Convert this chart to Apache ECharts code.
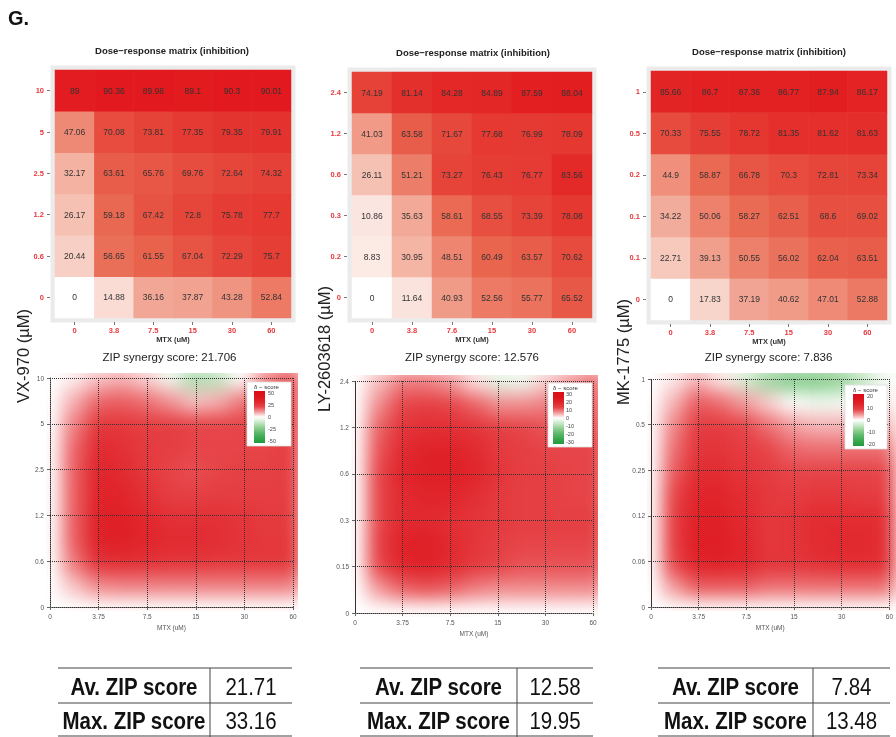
<!DOCTYPE html>
<html>
<head>
<meta charset="utf-8">
<script src="https://cdn.jsdelivr.net/npm/echarts@6/dist/echarts.min.js"></script>
<style>
  body { margin: 0; background: #fff; }
  #wrap { position: relative; width: 896px; height: 737px; overflow: hidden; }
  .clip { position: absolute; overflow: hidden; }
  .blur { position: absolute; width: 896px; height: 737px; filter: blur(9px); }
  #main { position: absolute; left: 0; top: 0; width: 896px; height: 737px; }
</style>
</head>
<body>
<div id="wrap">
  <div class="clip" id="clip0"><div class="blur" id="syn0"></div></div>
  <div class="clip" id="clip1"><div class="blur" id="syn1"></div></div>
  <div class="clip" id="clip2"><div class="blur" id="syn2"></div></div>
  <div id="main"></div>
</div>
<script>
// ---- data ----
var drugNames = ['VX-970 (\u00b5M)', 'LY-2603618 (\u00b5M)', 'MK-1775 (\u00b5M)'];
var matX = [
  ['0', '3.8', '7.5', '15', '30', '60'],
  ['0', '3.8', '7.6', '15', '30', '60'],
  ['0', '3.8', '7.5', '15', '30', '60']
];
var matY = [
  ['0', '0.6', '1.2', '2.5', '5', '10'],
  ['0', '0.2', '0.3', '0.6', '1.2', '2.4'],
  ['0', '0.1', '0.1', '0.2', '0.5', '1']
];
// inhibition, rows from lowest dose (bottom) to highest (top)
var inhibVX = [
  [0, 14.88, 36.16, 37.87, 43.28, 52.84],
  [20.44, 56.65, 61.55, 67.04, 72.29, 75.7],
  [26.17, 59.18, 67.42, 72.8, 75.78, 77.7],
  [32.17, 63.61, 65.76, 69.76, 72.64, 74.32],
  [47.06, 70.08, 73.81, 77.35, 79.35, 79.91],
  [89, 90.36, 89.98, 89.1, 90.3, 90.01]
];
var inhibLY = [
  [0, 11.64, 40.93, 52.56, 55.77, 65.52],
  [8.83, 30.95, 48.51, 60.49, 63.57, 70.62],
  [10.86, 35.63, 58.61, 68.55, 73.39, 78.08],
  [26.11, 51.21, 73.27, 76.43, 76.77, 83.56],
  [41.03, 63.58, 71.67, 77.68, 76.99, 78.09],
  [74.19, 81.14, 84.28, 84.89, 87.59, 88.04]
];
var inhibMK = [
  [0, 17.83, 37.19, 40.62, 47.01, 52.88],
  [22.71, 39.13, 50.55, 56.02, 62.04, 63.51],
  [34.22, 50.06, 58.27, 62.51, 68.6, 69.02],
  [44.9, 58.87, 66.78, 70.3, 72.81, 73.34],
  [70.33, 75.55, 78.72, 81.35, 81.62, 81.63],
  [85.66, 86.7, 87.36, 86.77, 87.94, 86.17]
];

var synTitles = ['ZIP synergy score: 21.706', 'ZIP synergy score: 12.576', 'ZIP synergy score: 7.836'];
var synX = ['0', '3.75', '7.5', '15', '30', '60'];
var synY = [
  ['0', '0.6', '1.2', '2.5', '5', '10'],
  ['0', '0.15', '0.3', '0.6', '1.2', '2.4'],
  ['0', '0.06', '0.12', '0.25', '0.5', '1']
];
// delta scores on a half-step grid (11 x 11), bottom row first
var deltaVX = [
  [0, 0, 0, 0, 0, 0, 0, 0, 0, 0, 0],
  [0, 6, 12, 13, 13, 13, 13, 13, 13, 13, 13],
  [0, 14, 26, 27, 26, 25, 25, 24, 24, 24, 24],
  [0, 17, 32, 33, 30, 28, 28, 27, 25, 24, 24],
  [0, 17, 32, 33, 29, 26, 26, 26, 25, 23, 23],
  [0, 17, 31, 30, 26, 22, 21, 22, 22, 22, 22],
  [0, 17, 30, 28, 24, 20, 19, 20, 21, 21, 22],
  [0, 16, 28, 26, 23, 22, 20, 20, 20, 20, 22],
  [0, 13, 24, 24, 22, 22, 20, 20, 20, 20, 22],
  [0, 8, 16, 17, 15, 11, 6, 8, 14, 18, 20],
  [0, 2, 6, 8, 5, -3, -15, -12, 0, 12, 18]
];
var deltaLY = [
  [0, 0, 0, 0, 0, 0, 0, 0, 0, 0, 0],
  [0, 6, 10, 11, 10, 8, 7, 7, 7, 7, 7],
  [0, 12, 18, 19, 17, 14, 12, 11, 11, 11, 11],
  [0, 13, 19, 20, 17, 15, 13, 12, 12, 12, 12],
  [0, 12, 17, 17, 16, 15, 14, 13, 13, 13, 13],
  [0, 12, 17, 18, 18, 16, 14, 13, 13, 12, 12],
  [0, 12, 18, 20, 20, 18, 15, 13, 13, 12, 12],
  [0, 11, 17, 19, 19, 17, 14, 13, 12, 12, 12],
  [0, 10, 15, 16, 16, 15, 13, 12, 11, 11, 11],
  [0, 7, 12, 13, 12, 10, 7, 7, 8, 9, 10],
  [0, 4, 8, 8, 6, 2, -3, -2, 3, 6, 9]
];
var deltaMK = [
  [0, 0, 0, 0, 0, 0, 0, 0, 0, 0, 0],
  [0, 4, 7, 7, 7, 6, 6, 6, 6, 6, 6],
  [0, 8, 12.5, 13, 12, 10, 10, 10.5, 11, 11, 11],
  [0, 9, 13.5, 13.5, 12, 9.5, 10, 11, 11.5, 11.5, 11],
  [0, 9, 13, 13, 11.5, 9.5, 10, 11, 11, 11, 11],
  [0, 8, 12, 12, 11, 9.5, 9, 9.5, 9.5, 9, 9],
  [0, 7, 11, 11, 10, 9, 8, 8, 8, 8, 8],
  [0, 6, 10, 10, 9, 8, 6.5, 6, 6, 6, 6],
  [0, 5, 9, 9, 8, 6, 4, 3, 3, 3, 3],
  [0, 3, 7, 6, 4, 2, 0, -1, -1, 0, 1],
  [0, 1, 3, 1, -3, -7, -9, -9, -8, -5, -1]
];
var synRange = [50, 30, 20];
var legendLabels = [
  ['50', '25', '0', '-25', '-50'],
  ['30', '20', '10', '0', '-10', '-20', '-30'],
  ['20', '10', '0', '-10', '-20']
];

var tableRows = ['Av. ZIP score', 'Max. ZIP score'];
var avZip = [21.71, 12.58, 7.84];
var maxZip = [33.16, 19.95, 13.48];

// ---- layout ----
var inhib = [inhibVX, inhibLY, inhibMK];
var delta = [deltaVX, deltaLY, deltaMK];
var matGrid = [
  {left: 55, top: 70, width: 236, height: 248},
  {left: 352, top: 72, width: 240, height: 246},
  {left: 651, top: 71, width: 236, height: 249}
];
var matTitleX = [172, 473, 769];
var synGrid = [
  {left: 50, top: 378, width: 243, height: 229},
  {left: 355, top: 381, width: 238, height: 232},
  {left: 651, top: 379, width: 239, height: 228}
];
var clips = [[46, 373, 252, 238], [351, 375, 247, 242], [647, 373, 249, 238]];
var legendBox = [
  {x: 247, y: 382, w: 44, bar: 254, lab: 268},
  {x: 548, y: 383, w: 44, bar: 553, lab: 566},
  {x: 845, y: 385, w: 42, bar: 853, lab: 867}
];
var nameX = [23, 324, 623], nameY = [356, 349, 352];
var tables = [[58, 292, 210], [360, 593, 517], [658, 890, 813]];

var FONT = "'Liberation Sans', Arial, sans-serif";
var synColors = ['#1e9a3c', '#3aa84e', '#5cb96c', '#8fd092', '#c9e9c9', '#ffffff',
                 '#f29a9c', '#e64448', '#e0252b', '#dc131b', '#d90e17'];

function cells(m) {
  var out = [];
  for (var y = 0; y < m.length; y++)
    for (var x = 0; x < m[y].length; x++) out.push([x, y, m[y][x]]);
  return out;
}
// category slots for the half-step grid: dose labels with an empty slot between
function halfSteps(labels) {
  var out = [];
  labels.forEach(function (l, n) { if (n) out.push(''); out.push(l); });
  return out;
}

// ---- blurred synergy surfaces ----
for (var k = 0; k < 3; k++) {
  var c = clips[k];
  var clipEl = document.getElementById('clip' + k);
  clipEl.style.left = c[0] + 'px'; clipEl.style.top = c[1] + 'px';
  clipEl.style.width = c[2] + 'px'; clipEl.style.height = c[3] + 'px';
  var inner = document.getElementById('syn' + k);
  inner.style.left = (-c[0]) + 'px'; inner.style.top = (-c[1]) + 'px';
  var sg = synGrid[k];
  // whole-pixel cells so neighbouring tiles leave no seams
  var cw = Math.round(sg.width / 10), ch = Math.round(sg.height / 10);
  var sc = echarts.init(inner);
  sc.setOption({
    animation: false,
    grid: {left: Math.round(sg.left - cw / 2), top: Math.round(sg.top - ch / 2), width: cw * 11, height: ch * 11},
    xAxis: {type: 'category', data: halfSteps(synX), show: false},
    yAxis: {type: 'category', data: halfSteps(synY[k]), show: false},
    visualMap: {show: false, min: -synRange[k], max: synRange[k], inRange: {color: synColors}},
    series: [{type: 'heatmap', data: cells(delta[k]), itemStyle: {borderWidth: 0}}]
  });
}

// ---- main chart ----
var grids = [], xAxes = [], yAxes = [], series = [], graphics = [];

for (var i = 0; i < 3; i++) {
  var g = matGrid[i];
  grids.push({left: g.left, top: g.top, width: g.width, height: g.height, show: true,
    backgroundColor: '#ebebeb', borderColor: '#ebebeb', borderWidth: 9});
  xAxes.push({gridIndex: i, type: 'category', data: matX[i], offset: 4,
    axisLine: {show: false}, axisTick: {show: true, alignWithLabel: true, length: 3, lineStyle: {color: '#777'}},
    axisLabel: {color: '#e8383d', fontWeight: 'bold', fontSize: 7.5, margin: 4, fontFamily: FONT},
    name: 'MTX (uM)', nameLocation: 'middle', nameGap: 13,
    nameTextStyle: {fontSize: 7.5, fontWeight: 'bold', color: '#333', fontFamily: FONT}});
  yAxes.push({gridIndex: i, type: 'category', data: matY[i], offset: 5,
    axisLine: {show: false}, axisTick: {show: true, alignWithLabel: true, length: 3, lineStyle: {color: '#777'}},
    axisLabel: {color: '#e8383d', fontWeight: 'bold', fontSize: 7.5, margin: 6, fontFamily: FONT}});
  series.push({type: 'heatmap', xAxisIndex: i, yAxisIndex: i, data: cells(inhib[i]),
    label: {show: true, fontSize: 8.5, color: '#333', fontFamily: FONT,
      formatter: function (p) { return String(p.value[2]); }},
    emphasis: {disabled: true}});
  graphics.push({type: 'text', x: matTitleX[i], y: g.top - 20, style: {text: 'Dose\u2212response matrix (inhibition)',
    fontSize: 9.5, fontWeight: 'bold', fontFamily: FONT, fill: '#222', align: 'center', verticalAlign: 'middle'}});
}

for (var j = 0; j < 3; j++) {
  var s = synGrid[j];
  var gi = 3 + j;
  var dotted = {color: '#333', type: 'dotted', width: 1};
  grids.push({left: s.left, top: s.top, width: s.width, height: s.height});
  xAxes.push({gridIndex: gi, type: 'category', boundaryGap: false, data: synX,
    axisLine: {show: true, lineStyle: dotted},
    axisTick: {show: true, length: 3, lineStyle: {color: '#666'}},
    axisLabel: {fontSize: 6.5, color: '#555', margin: 6, fontFamily: FONT},
    splitLine: {show: true, lineStyle: dotted},
    name: 'MTX (uM)', nameLocation: 'middle', nameGap: 17,
    nameTextStyle: {fontSize: 6.5, color: '#555', fontFamily: FONT}});
  yAxes.push({gridIndex: gi, type: 'category', boundaryGap: false, data: synY[j],
    axisLine: {show: true, lineStyle: dotted},
    axisTick: {show: true, length: 3, lineStyle: {color: '#666'}},
    axisLabel: {fontSize: 6.5, color: '#555', margin: 6, fontFamily: FONT},
    splitLine: {show: true, lineStyle: dotted}});
  graphics.push({type: 'text', x: s.left + s.width / 2 - 2, y: 357, style: {text: synTitles[j],
    fontSize: 11.5, fontFamily: FONT, fill: '#222', align: 'center', verticalAlign: 'middle'}});

  // legend box
  var L = legendBox[j];
  var stops = synColors.slice().reverse().map(function (col, n) { return {offset: n / 10, color: col}; });
  graphics.push({type: 'rect', z: 100, shape: {x: L.x, y: L.y, width: L.w, height: 64},
    style: {fill: '#fff', stroke: '#ddd', lineWidth: 0.8}});
  graphics.push({type: 'text', z: 101, x: L.bar, y: L.y + 5, style: {text: '\u03b4 \u2212 score',
    fontSize: 6, fontFamily: FONT, fill: '#333', verticalAlign: 'middle'}});
  graphics.push({type: 'rect', z: 101, shape: {x: L.bar, y: L.y + 9, width: 11, height: 52},
    style: {fill: {type: 'linear', x: 0, y: 0, x2: 0, y2: 1, colorStops: stops}}});
  var labs = legendLabels[j];
  for (var q = 0; q < labs.length; q++) {
    graphics.push({type: 'text', z: 101, x: L.lab, y: L.y + 11 + q * 48 / (labs.length - 1),
      style: {text: labs[q], fontSize: 5.5, fontFamily: FONT, fill: '#444', verticalAlign: 'middle'}});
  }

  // rotated drug axis title
  graphics.push({type: 'text', x: nameX[j], y: nameY[j], rotation: Math.PI / 2,
    style: {text: drugNames[j], fontSize: 16.5, fontFamily: FONT, fill: '#222', align: 'center', verticalAlign: 'middle'}});

  // score table
  var t = tables[j];
  [668, 703, 736].forEach(function (yy) {
    graphics.push({type: 'line', shape: {x1: t[0], y1: yy, x2: t[1], y2: yy}, style: {stroke: '#444', lineWidth: 1.2}});
  });
  graphics.push({type: 'line', shape: {x1: t[2], y1: 668, x2: t[2], y2: 737}, style: {stroke: '#444', lineWidth: 1}});
  var vals = [avZip[j].toFixed(2), maxZip[j].toFixed(2)];
  for (var r = 0; r < tableRows.length; r++) {
    graphics.push({type: 'text', x: (t[0] + t[2]) / 2, y: 687 + 34 * r, scaleX: 0.89, style: {text: tableRows[r],
      fontSize: 23, fontWeight: 'bold', fontFamily: FONT, fill: '#111', align: 'center', verticalAlign: 'middle'}});
    graphics.push({type: 'text', x: (t[2] + t[1]) / 2, y: 687 + 34 * r, scaleX: 0.89, style: {text: vals[r],
      fontSize: 23, fontFamily: FONT, fill: '#111', align: 'center', verticalAlign: 'middle'}});
  }
}

graphics.push({type: 'text', x: 8, y: 18, style: {text: 'G.', fontSize: 20, fontWeight: 'bold',
  fontFamily: FONT, fill: '#111', verticalAlign: 'middle'}});

var chart = echarts.init(document.getElementById('main'), null, {renderer: 'svg'});
chart.setOption({
  animation: false,
  backgroundColor: 'transparent',
  grid: grids,
  xAxis: xAxes,
  yAxis: yAxes,
  visualMap: {show: false, seriesIndex: [0, 1, 2], min: 0, max: 90,
    inRange: {color: ['#ffffff', '#f4b8a8', '#e9664f', '#e2191e']}},
  series: series,
  graphic: graphics
});
</script>
</body>
</html>
